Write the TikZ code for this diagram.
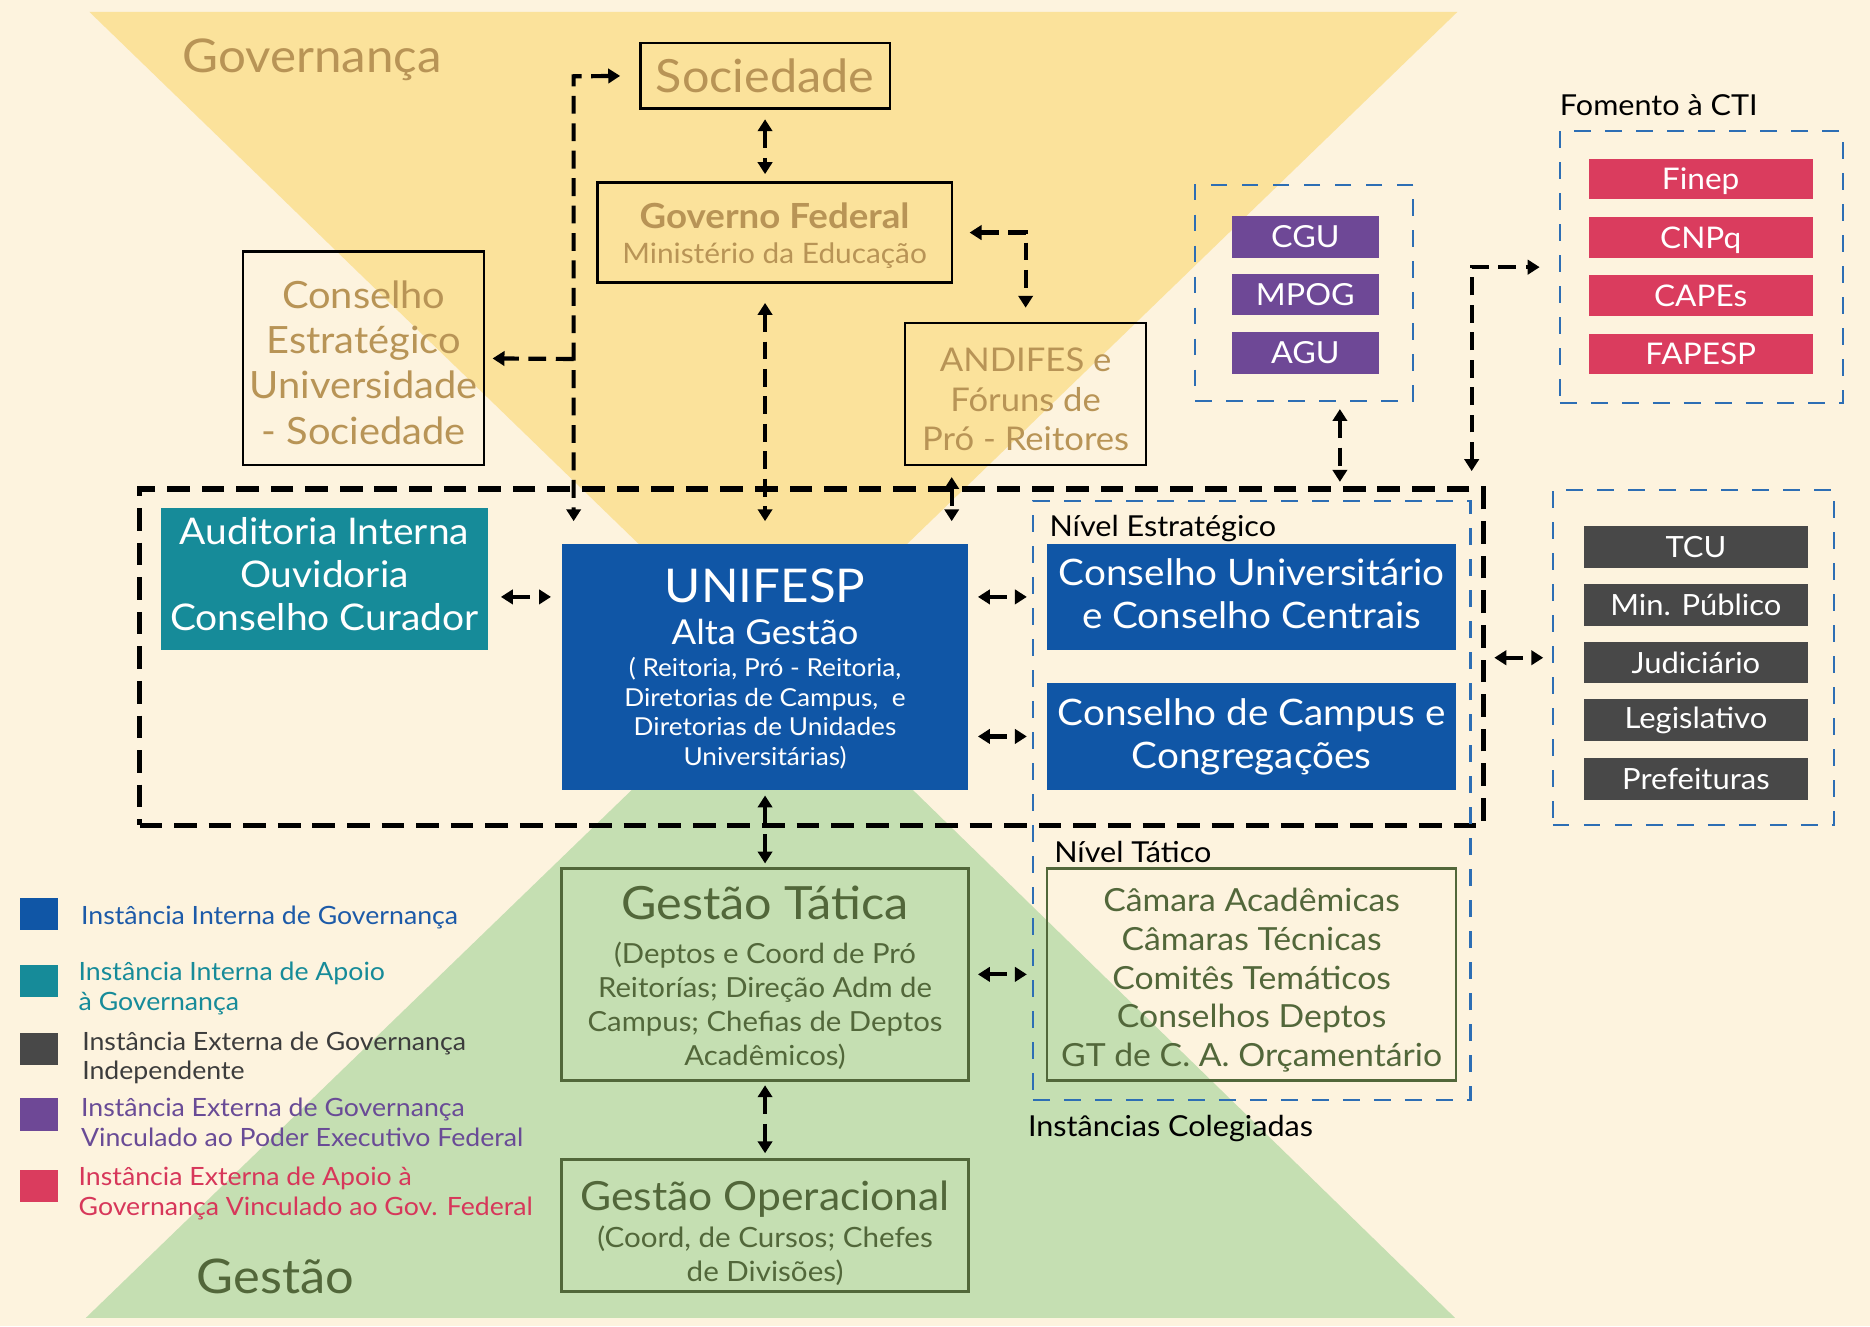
\documentclass[tikz,border=0pt]{standalone}
\usepackage{fontspec}
\setmainfont{Lato}[FakeStretch=1.06]
\usetikzlibrary{arrows.meta,calc}
\definecolor{bgc}{RGB}{253,243,222}
\definecolor{yel}{RGB}{251,226,155}
\definecolor{grn}{RGB}{197,223,178}
\definecolor{ctan}{RGB}{184,148,86}
\definecolor{cblue}{RGB}{16,86,166}
\definecolor{cteal}{RGB}{22,139,153}
\definecolor{cpurple}{RGB}{110,72,150}
\definecolor{cred}{RGB}{218,60,94}
\definecolor{cgray}{RGB}{72,72,72}
\definecolor{colive}{RGB}{82,103,58}
\definecolor{cdash}{RGB}{45,110,180}
\definecolor{lblue}{RGB}{28,90,168}
\definecolor{lgray}{RGB}{60,60,60}
\definecolor{lpurple}{RGB}{105,75,150}
\definecolor{lred}{RGB}{215,55,90}
\newcommand\myfs[2]{\fontsize{#1pt}{#2pt}\selectfont}
\tikzset{
  every node/.style={inner sep=0pt,outer sep=0pt},
  obox/.style={draw=black,line width=2pt},
  gbox/.style={draw=colive,line width=2.2pt},
  fbox/.style={text=white,align=center},
  bgrp/.style={draw=cdash,line width=1.8pt,dash pattern=on 14pt off 12pt},
  bigdash/.style={draw=black,line width=4.5pt,dash pattern=on 19pt off 10pt},
  conn/.style={draw=black,line width=3.5pt,dash pattern=on 15pt off 8pt,
    {Triangle[length=10pt,width=12pt]}-{Triangle[length=10pt,width=12pt]}},
  conr/.style={draw=black,line width=3.5pt,dash pattern=on 15pt off 8pt,
    -{Triangle[length=10pt,width=12pt]}},
}
\begin{document}
\begin{tikzpicture}[x=1pt,y=-1pt]
\useasboundingbox (0,0) rectangle (1568,1112);
\fill[bgc] (0,0) rectangle (1568,1112);
\fill[yel] (75,10) -- (1222,10) -- (648,565) -- cycle;
\fill[grn] (72,1105) -- (1220,1105) -- (648,548) -- cycle;

% big dashed frame
\node[bigdash,minimum width=1127pt,minimum height=282pt] (big) at (680.5,551) {};

% titles
\node[anchor=base west,text=ctan,font=\myfs{39}{42}] (tGov) at (153,61) {Governança};
\node[anchor=base west,text=colive,font=\myfs{40}{44}] (tGes) at (165,1085) {Gestão};

% top boxes
\node[obox,minimum width=209pt,minimum height=55pt,text=ctan,font=\myfs{38.4}{44}] (soc) at (641.5,63.5) {Sociedade};
\node[obox,minimum width=297pt,minimum height=84pt] (gov) at (649.5,195) {};
\node[anchor=base,text=ctan,font=\myfs{29}{32}\bfseries] (govA) at (649.5,192) {Governo Federal};
\node[anchor=base,text=ctan,font=\myfs{23.6}{27}] (govB) at (649.5,221) {Ministério da Educação};
\node[obox,minimum width=202pt,minimum height=179pt] (ces) at (305,300.5) {};
\node[text=ctan,align=center,font=\myfs{31.5}{38}] (cesT) at (305,304)
  {Conselho\\Estratégico\\Universidade\\- Sociedade};
\node[obox,minimum width=202pt,minimum height=119pt] (and) at (860,330.5) {};
\node[text=ctan,align=center,font=\myfs{27.4}{33}] (andT) at (860,335)
  {ANDIFES e\\Fóruns de\\Pró - Reitores};

% CGU group
\node[bgrp,minimum width=183pt,minimum height=181pt] (cgugrp) at (1093.5,245.5) {};
\node[fbox,fill=cpurple,minimum width=123pt,minimum height=35pt,font=\myfs{25.5}{28}] (cgu) at (1094.5,198.5) {CGU};
\node[fbox,fill=cpurple,minimum width=123pt,minimum height=35pt,font=\myfs{25.5}{28}] (mpog) at (1094.5,247) {MPOG};
\node[fbox,fill=cpurple,minimum width=123pt,minimum height=35pt,font=\myfs{25.5}{28}] (agu) at (1094.5,296) {AGU};

% Fomento group
\node[anchor=base west,font=\myfs{24.2}{28}] (tFom) at (1308,97) {Fomento à CTI};
\node[bgrp,minimum width=237pt,minimum height=228pt] (fomgrp) at (1426.5,224) {};
\node[fbox,fill=cred,minimum width=188pt,minimum height=34pt,font=\myfs{25}{28},text depth=0pt] (finep) at (1426,150) {Finep};
\node[fbox,fill=cred,minimum width=188pt,minimum height=34pt,font=\myfs{25}{28},text depth=0pt] (cnpq) at (1426,199) {CNPq};
\node[fbox,fill=cred,minimum width=188pt,minimum height=34pt,font=\myfs{25}{28}] (capes) at (1426,248) {CAPEs};
\node[fbox,fill=cred,minimum width=188pt,minimum height=34pt,font=\myfs{25}{28}] (fapesp) at (1426,297) {FAPESP};

% gray group
\node[bgrp,minimum width=236pt,minimum height=281pt] (grygrp) at (1420,551.5) {};
\node[fbox,fill=cgray,minimum width=188pt,minimum height=35pt,font=\myfs{24.5}{28}] (tcu) at (1422,458.5) {TCU};
\node[fbox,fill=cgray,minimum width=188pt,minimum height=35pt,font=\myfs{24.5}{28}] (minp) at (1422,507) {Min. Público};
\node[fbox,fill=cgray,minimum width=188pt,minimum height=35pt,font=\myfs{24.5}{28}] (jud) at (1422,555.5) {Judiciário};
\node[fbox,fill=cgray,minimum width=188pt,minimum height=35pt,font=\myfs{24.5}{28}] (legis) at (1422,604) {Legislativo};
\node[fbox,fill=cgray,minimum width=188pt,minimum height=35pt,font=\myfs{24.5}{28}] (pref) at (1422,653) {Prefeituras};

% inner boxes
\node[fill=cteal,minimum width=274pt,minimum height=119pt] (aud) at (272,485.5) {};
\node[text=white,align=center,font=\myfs{30.8}{36}] (audT) at (272,481.5)
  {Auditoria Interna\\Ouvidoria\\Conselho Curador};
\node[fill=cblue,minimum width=341pt,minimum height=206pt] (uni) at (641.5,559) {};
\node[anchor=base,text=white,font=\myfs{39}{44}] (uniA) at (641.5,505) {UNIFESP};
\node[anchor=base,text=white,font=\myfs{28.8}{32}] (uniB) at (641.5,540) {Alta Gestão};
\node[text=white,align=center,font=\myfs{20.75}{25}] (uniC) at (641.5,598)
  {( Reitoria, Pró - Reitoria,\\Diretorias de Campus,\ \ e\\Diretorias de Unidades\\Universitárias)};

% colegiadas
\node[bgrp,minimum width=367pt,minimum height=502pt] (colgrp) at (1049.5,671) {};
\node[anchor=base west,font=\myfs{24.2}{28}] (tNE) at (880,450) {Nível Estratégico};
\node[fill=cblue,minimum width=343pt,minimum height=89pt] (cu) at (1049.5,500.5) {};
\node[text=white,align=center,font=\myfs{30.6}{36}] (cuT) at (1049.5,497.5)
  {Conselho Universitário\\e Conselho Centrais};
\node[fill=cblue,minimum width=343pt,minimum height=89pt] (cc) at (1049.5,617.5) {};
\node[text=white,align=center,font=\myfs{30.6}{36}] (ccT) at (1049.5,618)
  {Conselho de Campus e\\Congregações};
\node[anchor=base west,font=\myfs{24.2}{28}] (tNT) at (884,723) {Nível Tático};
\node[gbox,minimum width=343pt,minimum height=178pt] (cam) at (1049.5,817) {};
\node[text=colive,align=center,font=\myfs{26.7}{32.5}] (camT) at (1049.5,822)
  {Câmara Acadêmicas\\Câmaras Técnicas\\Comitês Temáticos\\Conselhos Deptos\\GT de C. A. Orçamentário};
\node[anchor=base west,font=\myfs{24.2}{28}] (tIC) at (862,953) {Instâncias Colegiadas};

% gestao boxes
\node[gbox,minimum width=341pt,minimum height=178pt] (gt) at (641.5,817) {};
\node[anchor=base,text=colive,font=\myfs{38.4}{42}] (gtA) at (641.5,771) {Gestão Tática};
\node[text=colive,align=center,font=\myfs{23.2}{28.5}] (gtB) at (641.5,843)
  {(Deptos e Coord de Pró\\Reitorías; Direção Adm de\\Campus; Chefias de Deptos\\Acadêmicos)};
\node[gbox,minimum width=341pt,minimum height=111pt] (go) at (641.5,1027.5) {};
\node[anchor=base,text=colive,font=\myfs{33.7}{38}] (goA) at (641.5,1015) {Gestão Operacional};
\node[text=colive,align=center,font=\myfs{23.4}{29}] (goB) at (641.5,1053)
  {(Coord, de Cursos; Chefes\\de Divisões)};

% legend
\node[fill=cblue,minimum width=32pt,minimum height=27pt] (S1) at (33,766.5) {};
\node[fill=cteal,minimum width=32pt,minimum height=27pt] (S2) at (33,822.5) {};
\node[fill=cgray,minimum width=32pt,minimum height=27pt] (S3) at (33,879.5) {};
\node[fill=cpurple,minimum width=32pt,minimum height=27pt] (S4) at (33,934.5) {};
\node[fill=cred,minimum width=32pt,minimum height=27pt] (S5) at (33,994.5) {};
\node[anchor=base west,text=lblue,font=\myfs{21.1}{25}] (L1) at (68,775) {Instância Interna de Governança};
\node[anchor=west,align=left,text=cteal,font=\myfs{21.1}{25}] (L2) at (66,829) {Instância Interna de Apoio\\à Governança};
\node[anchor=west,align=left,text=lgray,font=\myfs{21.1}{25}] (L3) at (69,887) {Instância Externa de Governança\\Independente};
\node[anchor=west,align=left,text=lpurple,font=\myfs{21.1}{25}] (L4) at (68,941) {Instância Externa de Governança\\Vinculado ao Poder Executivo Federal};
\node[anchor=west,align=left,text=lred,font=\myfs{21.1}{25}] (L5) at (66,1001) {Instância Externa de Apoio à\\Governança Vinculado ao Gov. Federal};

% connectors
\coordinate (tl) at (481,64);
\coordinate (br) at (481,301);
\draw[conn,shorten <=17pt,shorten >=19pt] (soc.west) -- (tl) -- (tl |- uni.north);
\draw[conr,shorten >=7pt] (br) -- (ces.east);
\draw[conn,shorten <=9pt,shorten >=7pt] (soc.south) -- (soc.south |- gov.north);
\draw[conn,shorten <=17pt,shorten >=19pt] (gov.south -| uni.north) -- (uni.north);
\draw[conn,shorten <=15pt,shorten >=13pt] (gov.east) -- (gov.east -| and.north) -- (and.north);
\coordinate (a1) at ($(and.south west)+(39,0)$);
\draw[conn,shorten <=10pt,shorten >=19pt] (a1) -- (a1 |- uni.north);
\coordinate (g1) at ($(cgugrp.south)+(30,0)$);
\draw[conn,shorten <=7pt,shorten >=6pt] (g1) -- (g1 |- big.north);
\coordinate (f1) at (1234,224);
\draw[conn,shorten <=15pt,shorten >=17pt] (f1 |- big.north) -- (f1) -- (f1 -| fomgrp.west);
\draw[conn,shorten <=11pt,shorten >=9pt] (aud.east |- cu.west) -- (uni.west |- cu.west);
\draw[conn,shorten <=8pt,shorten >=17pt] (uni.east |- cu.west) -- (cu.west);
\draw[conn,shorten <=8pt,shorten >=17pt] (uni.east |- cc.west) -- (cc.west);
\draw[conn,shorten <=9pt,shorten >=8pt] (big.east |- grygrp.west) -- (grygrp.west);
\draw[conn,shorten <=5pt,shorten >=4pt] (uni.south) -- (gt.north);
\draw[conn,shorten <=8pt,shorten >=17pt] (gt.east) -- (cam.west);
\draw[conn,shorten <=4pt,shorten >=5pt] (gt.south) -- (go.north);
\end{tikzpicture}
\end{document}
